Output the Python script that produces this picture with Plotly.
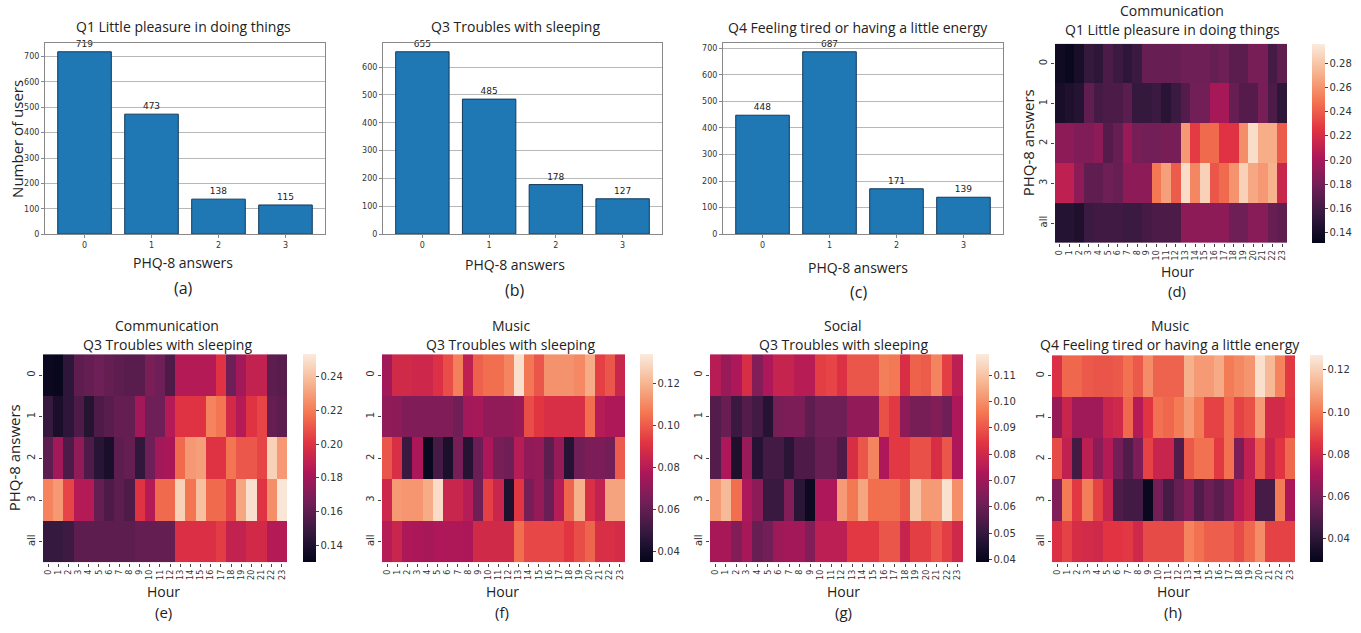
import plotly.graph_objects as go

W, H = 1361, 633

# ---------------- data ----------------
answers = [0, 1, 2, 3]
q1_counts = [719, 473, 138, 115]
q3_counts = [655, 485, 178, 127]
q4_counts = [448, 687, 171, 139]

hours = [str(h) for h in range(24)]
rows = ['0', '1', '2', '3', 'all']

comm_q1 = [
    [0.138, 0.135, 0.142, 0.155, 0.152, 0.165, 0.158, 0.152, 0.158, 0.175, 0.175, 0.175, 0.175, 0.178, 0.178, 0.178, 0.175, 0.178, 0.17, 0.17, 0.182, 0.182, 0.162, 0.172],
    [0.142, 0.145, 0.148, 0.172, 0.162, 0.165, 0.165, 0.17, 0.155, 0.155, 0.158, 0.15, 0.158, 0.168, 0.18, 0.18, 0.2, 0.2, 0.175, 0.168, 0.168, 0.182, 0.165, 0.152],
    [0.19, 0.19, 0.185, 0.185, 0.19, 0.168, 0.175, 0.195, 0.182, 0.18, 0.18, 0.182, 0.182, 0.262, 0.228, 0.245, 0.245, 0.225, 0.225, 0.258, 0.29, 0.27, 0.27, 0.24],
    [0.21, 0.21, 0.19, 0.172, 0.172, 0.178, 0.175, 0.19, 0.19, 0.19, 0.25, 0.265, 0.24, 0.29, 0.255, 0.285, 0.238, 0.245, 0.26, 0.285, 0.268, 0.262, 0.272, 0.215],
    [0.148, 0.148, 0.145, 0.158, 0.16, 0.16, 0.16, 0.158, 0.158, 0.162, 0.165, 0.165, 0.165, 0.19, 0.19, 0.19, 0.19, 0.19, 0.178, 0.178, 0.188, 0.188, 0.175, 0.172],
]
comm_q3 = [
    [0.133, 0.132, 0.145, 0.16, 0.162, 0.165, 0.162, 0.16, 0.158, 0.158, 0.168, 0.165, 0.155, 0.185, 0.185, 0.185, 0.185, 0.2, 0.165, 0.18, 0.19, 0.19, 0.16, 0.158],
    [0.148, 0.138, 0.145, 0.155, 0.142, 0.155, 0.158, 0.162, 0.162, 0.18, 0.165, 0.165, 0.185, 0.2, 0.2, 0.2, 0.222, 0.218, 0.195, 0.185, 0.2, 0.205, 0.162, 0.16],
    [0.16, 0.18, 0.155, 0.175, 0.155, 0.143, 0.138, 0.16, 0.162, 0.146, 0.165, 0.18, 0.182, 0.215, 0.228, 0.23, 0.2, 0.2, 0.218, 0.21, 0.21, 0.205, 0.245, 0.228],
    [0.222, 0.228, 0.205, 0.185, 0.185, 0.162, 0.155, 0.16, 0.155, 0.2, 0.185, 0.215, 0.215, 0.245, 0.218, 0.24, 0.215, 0.215, 0.205, 0.232, 0.25, 0.2, 0.225, 0.252],
    [0.148, 0.148, 0.15, 0.16, 0.16, 0.16, 0.16, 0.16, 0.16, 0.162, 0.162, 0.162, 0.162, 0.198, 0.198, 0.198, 0.198, 0.203, 0.19, 0.19, 0.195, 0.195, 0.185, 0.185],
]
music_q3 = [
    [0.075, 0.087, 0.087, 0.086, 0.086, 0.09, 0.097, 0.108, 0.082, 0.101, 0.104, 0.104, 0.109, 0.131, 0.106, 0.099, 0.112, 0.112, 0.112, 0.11, 0.118, 0.094, 0.099, 0.085],
    [0.071, 0.07, 0.067, 0.067, 0.067, 0.067, 0.067, 0.063, 0.075, 0.076, 0.071, 0.071, 0.071, 0.073, 0.097, 0.092, 0.089, 0.089, 0.089, 0.089, 0.104, 0.08, 0.078, 0.078],
    [0.099, 0.089, 0.05, 0.077, 0.037, 0.053, 0.042, 0.065, 0.045, 0.062, 0.077, 0.065, 0.063, 0.08, 0.071, 0.072, 0.059, 0.072, 0.045, 0.063, 0.066, 0.066, 0.064, 0.1],
    [0.086, 0.114, 0.113, 0.113, 0.118, 0.13, 0.085, 0.085, 0.08, 0.063, 0.094, 0.085, 0.043, 0.092, 0.065, 0.072, 0.062, 0.08, 0.102, 0.119, 0.089, 0.083, 0.116, 0.116],
    [0.08, 0.085, 0.078, 0.077, 0.076, 0.078, 0.078, 0.078, 0.077, 0.087, 0.087, 0.087, 0.087, 0.104, 0.096, 0.096, 0.096, 0.096, 0.092, 0.097, 0.102, 0.089, 0.089, 0.088],
]
social_q3 = [
    [0.075, 0.069, 0.073, 0.082, 0.065, 0.073, 0.078, 0.078, 0.075, 0.075, 0.086, 0.087, 0.083, 0.09, 0.09, 0.09, 0.097, 0.096, 0.082, 0.092, 0.091, 0.098, 0.086, 0.076],
    [0.056, 0.06, 0.051, 0.056, 0.053, 0.047, 0.063, 0.064, 0.064, 0.058, 0.061, 0.061, 0.061, 0.068, 0.068, 0.068, 0.089, 0.085, 0.067, 0.063, 0.063, 0.065, 0.061, 0.073],
    [0.056, 0.073, 0.045, 0.069, 0.047, 0.053, 0.053, 0.048, 0.055, 0.055, 0.06, 0.06, 0.055, 0.082, 0.09, 0.098, 0.073, 0.085, 0.085, 0.089, 0.089, 0.082, 0.09, 0.073],
    [0.102, 0.108, 0.094, 0.073, 0.067, 0.051, 0.051, 0.065, 0.048, 0.041, 0.073, 0.073, 0.102, 0.096, 0.104, 0.094, 0.094, 0.094, 0.09, 0.11, 0.102, 0.102, 0.116, 0.1],
    [0.072, 0.072, 0.065, 0.072, 0.06, 0.062, 0.07, 0.071, 0.071, 0.065, 0.076, 0.076, 0.076, 0.085, 0.085, 0.085, 0.09, 0.09, 0.078, 0.086, 0.086, 0.09, 0.086, 0.08],
]
music_q4 = [
    [0.083, 0.096, 0.096, 0.093, 0.092, 0.092, 0.093, 0.098, 0.093, 0.104, 0.095, 0.095, 0.095, 0.112, 0.107, 0.107, 0.111, 0.1, 0.103, 0.106, 0.124, 0.114, 0.102, 0.086],
    [0.066, 0.078, 0.068, 0.068, 0.068, 0.078, 0.08, 0.096, 0.073, 0.085, 0.098, 0.096, 0.1, 0.107, 0.1, 0.088, 0.088, 0.098, 0.088, 0.091, 0.107, 0.081, 0.081, 0.085],
    [0.09, 0.076, 0.046, 0.075, 0.063, 0.073, 0.058, 0.05, 0.06, 0.088, 0.078, 0.078, 0.05, 0.093, 0.098, 0.098, 0.086, 0.098, 0.06, 0.076, 0.093, 0.078, 0.085, 0.096],
    [0.061, 0.1, 0.086, 0.101, 0.088, 0.078, 0.049, 0.046, 0.046, 0.031, 0.058, 0.047, 0.055, 0.061, 0.05, 0.056, 0.052, 0.058, 0.073, 0.078, 0.047, 0.047, 0.1, 0.071],
    [0.083, 0.088, 0.082, 0.081, 0.08, 0.085, 0.085, 0.086, 0.08, 0.09, 0.09, 0.09, 0.09, 0.102, 0.098, 0.094, 0.094, 0.094, 0.09, 0.096, 0.104, 0.088, 0.088, 0.088],
]

# seaborn "rocket"-like colorscale
rocket = [
    [0.0, '#03051a'], [0.143, '#35193e'], [0.286, '#701f57'], [0.429, '#ad1759'],
    [0.571, '#e13342'], [0.714, '#f37651'], [0.857, '#f6b48f'], [1.0, '#faebdd'],
]

TXT = '#222222'
LBL_FONT = 'Open Sans'
TICK_FONT = 'DejaVu Sans'


def fx(px):
    return px / W


def fy(py):
    return 1 - py / H


fig = go.Figure()
annotations = []


def ann(text, x, y, size, angle=0):
    annotations.append(dict(text=text, x=fx(x), y=fy(y), xref='paper', yref='paper',
                            showarrow=False, xanchor='center', yanchor='middle',
                            textangle=angle, font=dict(family=LBL_FONT, size=size, color=TXT)))


# ---------------- bar charts ----------------
bar_specs = [
    ('', q1_counts, (45, 325, 43, 236), 'Q1 Little pleasure in doing things', 700, '(a)', (183, 27, 265, 290)),
    ('2', q3_counts, (383, 662, 43, 236), 'Q3 Troubles with sleeping', 600, '(b)', (515, 27, 267, 292)),
    ('3', q4_counts, (723, 1003, 43, 236), 'Q4 Feeling tired or having a little energy', 700, '(c)', (858, 28, 270, 294)),
]
layout_axes = {}
for suf, counts, (l, r, t, b), title, tmax, cap, (cx, ty, ly, capy) in bar_specs:
    fig.add_trace(go.Bar(
        x=answers, y=counts, xaxis='x' + suf, yaxis='y' + suf, width=0.8,
        marker=dict(color='#1f77b4', line=dict(color='#123a5e', width=1)),
        text=[str(c) for c in counts], textposition='outside', cliponaxis=False,
        textfont=dict(family=TICK_FONT, size=9, color=TXT), showlegend=False))
    layout_axes['xaxis' + suf] = dict(
        domain=[fx(l), fx(r)], anchor='y' + suf, range=[-0.59, 3.59], tickvals=answers,
        showline=True, linecolor='#888888', mirror=True, ticks='outside', ticklen=3,
        tickcolor='#888888', showgrid=False, zeroline=False,
        tickfont=dict(family=TICK_FONT, size=8, color='#333'))
    layout_axes['yaxis' + suf] = dict(
        domain=[fy(b), fy(t)], anchor='x' + suf, range=[0, max(counts) * 1.05],
        tickvals=list(range(0, tmax + 1, 100)), showline=True, linecolor='#888888', mirror=True,
        ticks='outside', ticklen=3, tickcolor='#888888', showgrid=True, gridcolor='#b8b8b8',
        gridwidth=1, zeroline=False, tickfont=dict(family=TICK_FONT, size=8, color='#333'))
    ann(title, cx, ty, 14)
    ann('PHQ-8 answers', cx, ly, 14)
    ann(cap, cx, capy, 16)

ann('Number of users', 17, 140, 15, angle=-90)

# ---------------- heatmaps ----------------
heat_specs = [
    ('4', comm_q1, (1055, 1287, 44, 245), 1312, (0.132, 0.296), [0.14, 0.16, 0.18, 0.20, 0.22, 0.24, 0.26, 0.28],
     'Communication', 'Q1 Little pleasure in doing things', (1172, 11, 30), (1177, 274, 293), '(d)', 1028),
    ('5', comm_q3, (43, 287, 357, 567), 303, (0.130, 0.2535), [0.14, 0.16, 0.18, 0.20, 0.22, 0.24],
     'Communication', 'Q3 Troubles with sleeping', (167, 328, 347), (163, 596, 617), '(e)', 14),
    ('6', music_q3, (382, 625, 357, 567), 640, (0.035, 0.134), [0.04, 0.06, 0.08, 0.10, 0.12],
     'Music', 'Q3 Troubles with sleeping', (511, 328, 347), (502, 596, 617), '(f)', None),
    ('7', social_q3, (710, 963, 357, 567), 976, (0.039, 0.118), [0.04, 0.05, 0.06, 0.07, 0.08, 0.09, 0.10, 0.11],
     'Social', 'Q3 Troubles with sleeping', (843, 328, 347), (843, 596, 617), '(g)', None),
    ('8', music_q4, (1052, 1295, 358, 567), 1310, (0.029, 0.127), [0.04, 0.06, 0.08, 0.10, 0.12],
     'Music', 'Q4 Feeling tired or having a little energy', (1170, 328, 347), (1173, 596, 617), '(h)', None),
]
for suf, z, (l, r, t, b), cbx, (zmin, zmax), cticks, t1, t2, (tx, ty1, ty2), (hx, hy, capy), cap, ylx in heat_specs:
    fig.add_trace(go.Heatmap(
        z=z, x=hours, y=rows, xaxis='x' + suf, yaxis='y' + suf, colorscale=rocket,
        zmin=zmin, zmax=zmax, xgap=0, ygap=0,
        colorbar=dict(x=fx(cbx), xanchor='left', y=fy(t), yanchor='top', len=(b - t) / H,
                      lenmode='fraction', thickness=13, thicknessmode='pixels', outlinewidth=0,
                      ticks='outside', ticklen=3, tickcolor='#444', tickvals=cticks, tickformat='.2f',
                      tickfont=dict(family=TICK_FONT, size=10, color='#333'), xpad=0, ypad=0)))
    layout_axes['xaxis' + suf] = dict(
        domain=[fx(l), fx(r)], anchor='y' + suf, type='category', tickmode='array', tickvals=hours,
        ticktext=hours, tickangle=-90, ticks='outside',
        ticklen=3, tickcolor='#444', showgrid=False, zeroline=False, showline=False,
        tickfont=dict(family=TICK_FONT, size=8, color='#333'))
    layout_axes['yaxis' + suf] = dict(
        domain=[fy(b), fy(t)], anchor='x' + suf, type='category', autorange='reversed', tickangle=-90,
        tickmode='array', tickvals=rows, ticktext=rows,
        ticks='outside', ticklen=3, tickcolor='#444', showgrid=False, zeroline=False, showline=False,
        tickfont=dict(family=TICK_FONT, size=10, color='#333'))
    ann(t1, tx, ty1, 14)
    ann(t2, tx, ty2, 14)
    ann('Hour', hx, hy, 14)
    ann(cap, hx, capy, 15)
    if ylx is not None:
        ann('PHQ-8 answers', ylx, (t + b) / 2, 15, angle=-90)

fig.update_layout(
    width=W, height=H, margin=dict(l=0, r=0, t=0, b=0),
    paper_bgcolor='white', plot_bgcolor='white', showlegend=False,
    annotations=annotations, **layout_axes)

# remove the default page margin so the figure fills the window exactly; hide the modebar
fig.write_html('out.html', config={'displayModeBar': False},
               post_script="document.body.style.margin='0px';document.body.style.overflow='hidden';")
